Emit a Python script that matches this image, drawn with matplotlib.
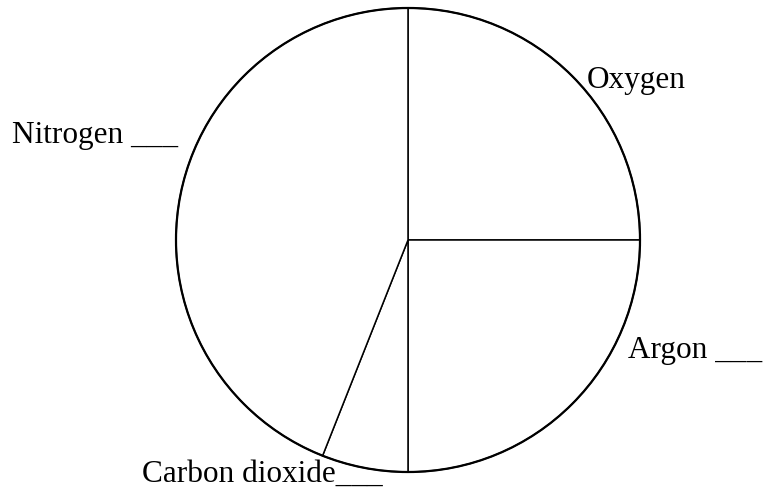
#!/usr/bin/env python3
"""
Unlabelled pie sketch of the gases in air
"""

import matplotlib
matplotlib.use('Agg')
import matplotlib.pyplot as plt
from matplotlib.patches import Circle

# slices clockwise from 12 o'clock
gases = ['Oxygen', 'Argon', 'Carbon dioxide', 'Nitrogen']
shares = [25, 25, 6, 44]
labels = ['Oxygen', 'Argon ___', 'Carbon dioxide___', 'Nitrogen ___']

W, H = 764, 499
fig = plt.figure(figsize=(W / 100, H / 100), dpi=100)
ax = fig.add_axes([0, 0, 1, 1])

cx, cy, r = 408, H - 240, 232
ax.pie(shares, startangle=90, counterclock=False, center=(cx, cy), radius=r,
       colors=['white'] * len(shares),
       wedgeprops=dict(edgecolor='black', linewidth=1.1))
ax.add_patch(Circle((cx, cy), r, fill=False, edgecolor='black', linewidth=1.6))

# label positions (left edge, baseline) in pixels from top-left
label_pos = {
    'Oxygen': (587, 88),
    'Argon': (628, 358),
    'Carbon dioxide': (142, 482),
    'Nitrogen': (12, 143),
}
for gas, lab in zip(gases, labels):
    x, y = label_pos[gas]
    ax.text(x, H - y, lab, ha='left', va='baseline', fontsize=22.5,
            family=['Liberation Serif', 'DejaVu Serif'], color='black')

ax.set_xlim(0, W)
ax.set_ylim(0, H)
ax.set_aspect('equal')
ax.axis('off')

plt.savefig('out.png', dpi=100, facecolor='white')
plt.close()
